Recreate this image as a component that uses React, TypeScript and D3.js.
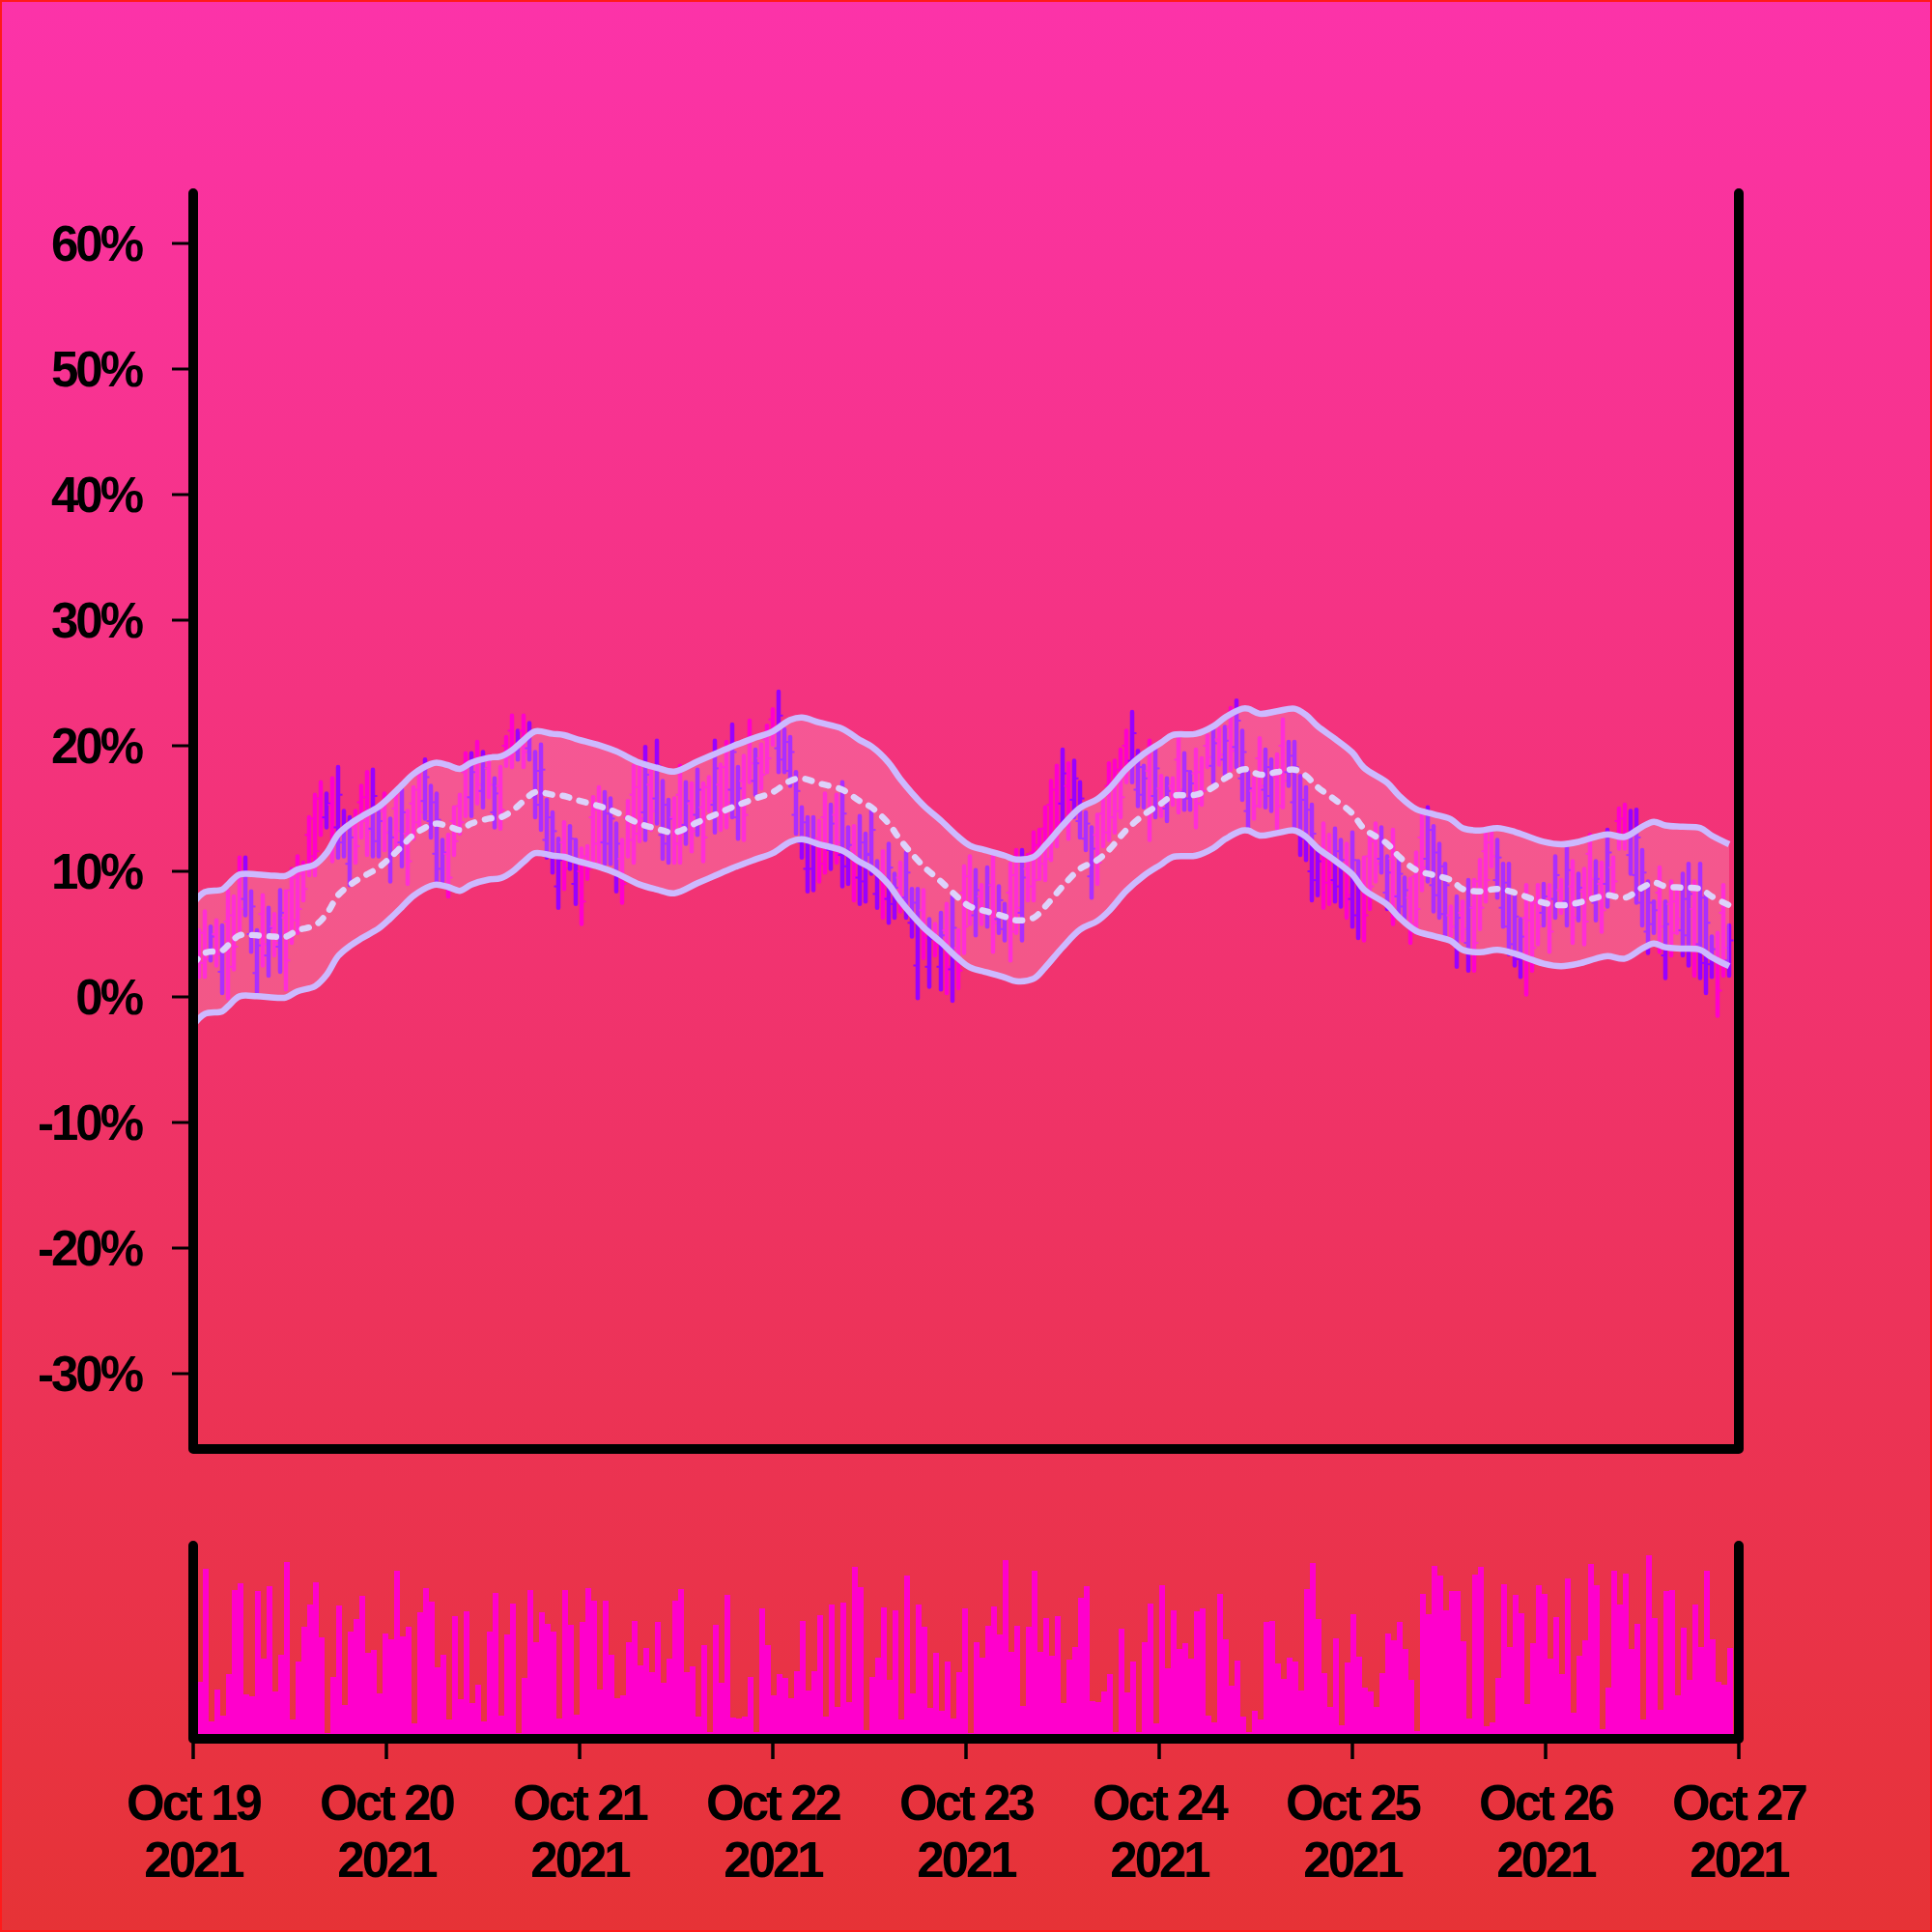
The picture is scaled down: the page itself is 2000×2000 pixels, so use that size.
import * as d3 from 'd3';

// OHLC in percent, one candle per 43.2 minutes starting Oct 19 2021
const HIGH = [
  4.8, 5.3, 6.8, 5.6, 6.1, 5.7, 8.4, 8.0, 11.1, 11.1,
  8.4, 5.3, 8.1, 7.1, 6.6, 8.5, 8.4, 10.2, 11.2, 10.7,
  14.3, 16.1, 17.1, 16.2, 17.4, 18.3, 14.8, 14.3, 14.8, 16.8,
  17.9, 18.1, 15.2, 16.2, 14.2, 16.5, 16.5, 14.8, 16.7, 17.9,
  18.9, 16.8, 16.2, 12.5, 12.9, 15.1, 16.1, 19.4, 19.4, 20.3,
  19.5, 19.2, 17.4, 18.3, 20.7, 22.4, 21.2, 22.4, 21.8, 19.5,
  20.1, 15.7, 14.7, 12.6, 13.9, 13.6, 12.5, 11.8, 12.0, 15.9,
  16.7, 16.3, 15.8, 13.8, 12.5, 15.6, 18.4, 18.5, 19.9, 18.4,
  20.4, 17.2, 15.7, 15.8, 18.4, 17.1, 17.0, 18.1, 17.0, 17.5,
  20.4, 18.5, 20.3, 21.7, 18.3, 19.2, 22.0, 19.7, 20.1, 21.6,
  22.9, 24.3, 21.3, 20.7, 17.9, 15.1, 14.3, 14.3, 14.0, 16.2,
  15.3, 16.1, 17.1, 13.5, 13.6, 14.4, 13.0, 14.8, 10.8, 11.6,
  12.2, 9.8, 10.7, 11.5, 8.6, 8.6, 8.5, 6.2, 5.8, 6.7,
  7.4, 8.0, 5.3, 10.4, 11.2, 10.1, 8.9, 10.3, 11.2, 8.8,
  7.4, 10.6, 11.7, 11.7, 11.3, 13.1, 13.3, 15.1, 17.2, 18.4,
  19.7, 18.6, 18.8, 17.1, 14.7, 13.5, 14.5, 15.7, 18.6, 18.8,
  19.7, 21.2, 22.7, 19.6, 18.4, 20.4, 19.9, 17.6, 17.4, 17.4,
  20.7, 19.4, 17.9, 19.7, 19.0, 20.8, 21.5, 21.3, 21.5, 23.0,
  23.6, 21.2, 17.9, 17.4, 20.6, 19.7, 18.9, 19.3, 22.1, 20.3,
  20.3, 17.6, 16.7, 15.3, 12.0, 13.8, 12.9, 13.4, 12.5, 12.2,
  13.1, 10.8, 11.1, 13.0, 13.8, 13.5, 11.2, 13.3, 11.2, 9.5,
  9.4, 11.5, 14.5, 15.1, 13.6, 12.2, 10.6, 7.2, 8.0, 7.6,
  9.3, 9.3, 10.9, 13.3, 13.1, 12.5, 10.6, 10.6, 8.1, 6.2,
  8.9, 7.9, 8.9, 9.0, 8.9, 11.2, 9.3, 12.0, 10.8, 9.8,
  10.2, 12.9, 10.8, 10.7, 13.3, 11.1, 15.0, 15.3, 14.8, 14.9,
  11.7, 9.2, 7.6, 10.3, 7.6, 9.2, 8.6, 9.8, 10.6, 9.2,
  10.6, 8.3, 4.8, 5.1, 8.9, 5.7,
];

const LOW = [
  1.0, 1.6, 1.6, 2.9, 2.5, 0.3, -0.1, 2.2, 5.3, 6.5,
  3.6, 0.4, 2.5, 1.7, 3.3, 2.0, 0.6, 4.3, 5.1, 7.7,
  9.7, 9.7, 12.9, 13.5, 10.8, 11.1, 11.2, 8.9, 10.7, 12.7,
  11.3, 11.2, 11.2, 11.7, 9.2, 11.7, 10.4, 9.0, 12.6, 13.3,
  14.2, 12.7, 9.2, 9.2, 8.0, 11.3, 13.0, 14.4, 14.4, 15.4,
  15.1, 15.9, 13.5, 13.4, 18.4, 18.3, 18.9, 18.3, 18.9, 14.3,
  13.3, 11.1, 9.9, 7.1, 8.6, 10.2, 7.4, 5.8, 9.4, 10.6,
  10.6, 10.6, 10.6, 8.4, 7.5, 11.2, 10.7, 12.4, 12.5, 13.3,
  13.8, 11.0, 10.7, 10.7, 10.7, 12.2, 11.6, 12.9, 10.8, 14.8,
  13.1, 13.3, 13.5, 14.3, 12.6, 12.5, 17.1, 16.1, 16.6, 17.9,
  20.1, 17.9, 17.9, 16.8, 13.0, 11.1, 8.4, 8.5, 9.2, 9.9,
  10.2, 10.7, 8.8, 9.0, 7.7, 7.4, 7.6, 9.8, 7.1, 6.3,
  5.9, 6.3, 6.8, 6.3, 4.8, -0.1, 3.1, 0.8, 3.3, 0.6,
  0.3, -0.3, 0.7, 3.5, 5.8, 4.9, 5.8, 5.6, 3.6, 5.1,
  4.5, 2.9, 5.1, 4.5, 7.7, 7.7, 9.4, 9.3, 10.9, 12.0,
  13.5, 12.6, 14.3, 12.7, 11.7, 7.9, 9.0, 12.0, 12.5, 13.1,
  14.3, 17.1, 17.1, 15.2, 15.1, 12.5, 14.3, 14.4, 14.0, 15.3,
  14.7, 14.9, 14.9, 13.5, 15.3, 18.3, 17.1, 18.5, 17.7, 18.1,
  18.3, 15.7, 13.5, 14.2, 15.2, 15.1, 14.8, 13.4, 15.1, 16.8,
  13.5, 11.3, 10.9, 7.7, 8.1, 7.1, 7.4, 7.6, 7.2, 6.3,
  5.6, 4.7, 4.5, 7.0, 9.2, 9.9, 7.0, 5.8, 6.6, 6.2,
  4.3, 5.1, 8.5, 9.2, 6.8, 6.3, 4.9, 4.9, 2.4, 4.5,
  2.1, 2.1, 5.4, 7.6, 10.4, 7.9, 5.6, 3.4, 2.5, 1.6,
  0.2, 2.1, 4.2, 5.7, 3.6, 6.3, 6.7, 5.7, 4.3, 6.1,
  4.2, 7.9, 6.1, 5.2, 7.2, 8.4, 11.8, 11.8, 9.8, 7.5,
  5.7, 3.5, 5.1, 3.6, 1.5, 3.3, 5.1, 3.3, 2.5, 1.7,
  1.5, 0.3, 1.6, -1.5, 1.7, 1.7,
];

const OPEN = [
  2.2, 4.4, 5.1, 3.6, 5.0, 2.0, 6.0, 6.5, 9.4, 7.8,
  5.0, 1.9, 6.6, 3.3, 5.6, 4.0, 6.3, 8.5, 9.5, 9.8,
  12.9, 14.2, 15.8, 14.3, 15.3, 13.5, 12.3, 10.6, 13.5, 15.5,
  15.9, 13.4, 12.4, 14.8, 10.8, 15.0, 12.3, 13.0, 15.4, 16.5,
  15.6, 14.0, 11.4, 10.2, 11.4, 14.0, 15.2, 17.9, 15.9, 18.8,
  16.4, 18.2, 14.7, 16.8, 20.0, 21.2, 19.6, 21.2, 19.8, 15.9,
  15.3, 12.5, 11.4, 8.8, 12.3, 11.2, 9.0, 10.0, 11.2, 14.3,
  14.9, 12.3, 12.2, 10.0, 11.0, 14.3, 16.1, 16.7, 14.7, 16.9,
  15.8, 12.9, 12.2, 14.3, 16.1, 13.7, 15.4, 14.5, 15.1, 16.7,
  15.3, 16.9, 18.3, 16.5, 14.3, 17.2, 20.5, 17.2, 19.0, 20.5,
  22.1, 19.8, 18.9, 18.0, 14.5, 12.3, 10.2, 10.2, 12.6, 14.3,
  11.7, 14.5, 11.3, 10.4, 11.8, 9.5, 9.2, 11.3, 8.2, 10.0,
  7.8, 7.4, 9.5, 7.9, 5.9, 2.5, 6.9, 2.4, 5.0, 2.4,
  5.3, 2.2, 3.9, 8.3, 9.6, 6.5, 8.0, 7.0, 8.9, 6.2,
  5.4, 8.3, 9.7, 6.7, 10.2, 11.5, 12.1, 13.4, 15.3, 16.5,
  15.4, 16.8, 15.7, 14.0, 12.6, 9.6, 12.9, 14.6, 16.8, 17.1,
  18.1, 20.0, 18.8, 16.5, 16.1, 18.0, 16.0, 16.6, 15.0, 16.8,
  18.9, 16.3, 15.8, 17.8, 17.9, 20.0, 18.4, 20.5, 18.9, 21.5,
  19.9, 17.4, 14.8, 16.4, 19.0, 16.5, 16.0, 17.5, 20.0, 17.9,
  15.5, 13.2, 12.6, 10.0, 9.3, 11.8, 11.2, 9.3, 8.8, 10.4,
  7.8, 6.5, 9.1, 11.2, 12.4, 11.0, 8.3, 11.0, 8.0, 7.2,
  7.9, 9.6, 12.7, 11.0, 8.9, 8.1, 6.6, 6.5, 4.1, 6.7,
  4.3, 7.1, 9.2, 11.6, 12.3, 9.3, 7.1, 5.6, 4.2, 3.0,
  6.3, 6.1, 7.5, 6.7, 7.3, 7.8, 8.5, 7.6, 8.8, 7.2,
  8.4, 11.4, 7.5, 9.0, 9.0, 10.3, 14.0, 14.2, 11.3, 9.7,
  7.5, 5.2, 5.8, 8.3, 3.3, 7.4, 7.6, 5.3, 4.9, 7.0,
  4.2, 2.7, 2.6, 3.1, 6.7, 2.9,
];

const CLOSE = [
  3.9, 2.7, 3.0, 4.8, 3.4, 4.1, 2.4, 4.0, 7.0, 9.9,
  7.2, 4.1, 4.2, 5.5, 4.3, 6.7, 2.9, 6.1, 7.0, 8.6,
  11.2, 11.6, 14.2, 15.4, 12.9, 16.1, 13.7, 12.7, 12.0, 14.0,
  13.3, 16.0, 14.0, 13.1, 12.7, 13.2, 14.7, 10.8, 13.9, 14.7,
  17.5, 15.5, 14.1, 11.5, 9.5, 12.4, 13.9, 15.9, 17.9, 16.9,
  18.2, 16.9, 16.2, 14.9, 19.1, 19.5, 20.5, 19.5, 20.9, 18.0,
  18.1, 14.3, 13.2, 10.9, 10.2, 12.6, 11.0, 7.6, 10.2, 12.2,
  12.4, 14.6, 14.2, 12.2, 9.0, 12.5, 13.0, 14.2, 17.7, 14.8,
  18.4, 15.3, 14.2, 12.2, 13.0, 15.6, 13.2, 16.5, 12.7, 15.6,
  18.2, 14.9, 15.5, 19.5, 16.6, 14.5, 18.6, 18.6, 17.7, 19.0,
  21.0, 22.4, 20.3, 19.5, 16.4, 13.9, 12.5, 12.6, 10.6, 11.8,
  13.8, 12.3, 14.6, 12.1, 9.5, 12.3, 11.4, 13.3, 9.7, 7.9,
  10.3, 8.7, 8.0, 9.9, 7.5, 6.0, 4.7, 4.6, 4.1, 4.9,
  2.4, 5.5, 2.1, 5.6, 7.4, 8.5, 6.7, 8.9, 5.9, 7.7,
  6.5, 5.2, 7.1, 9.5, 8.8, 9.3, 10.6, 11.0, 12.8, 13.9,
  17.8, 14.4, 17.4, 15.8, 13.8, 11.8, 10.7, 13.1, 14.3, 14.8,
  15.9, 18.3, 21.0, 18.3, 17.4, 14.9, 18.2, 15.4, 16.4, 15.9,
  16.5, 18.0, 17.0, 15.4, 16.4, 19.1, 20.2, 19.3, 20.4, 19.6,
  22.0, 19.5, 16.6, 15.2, 16.8, 18.3, 17.7, 15.2, 17.2, 19.2,
  18.3, 15.7, 14.9, 13.0, 10.8, 9.1, 9.1, 11.6, 10.9, 8.1,
  10.9, 8.9, 6.5, 8.8, 10.6, 12.4, 9.9, 8.1, 9.8, 8.5,
  5.8, 7.0, 10.3, 13.3, 11.5, 10.4, 8.9, 5.6, 6.3, 5.4,
  7.1, 4.3, 7.1, 9.3, 11.2, 11.1, 9.1, 8.4, 6.4, 4.8,
  2.8, 3.9, 5.6, 8.0, 5.2, 9.7, 7.5, 10.1, 6.3, 8.7,
  6.0, 9.4, 9.4, 6.9, 11.5, 9.2, 12.8, 12.9, 13.3, 12.7,
  9.9, 7.5, 6.9, 5.6, 5.8, 5.1, 6.2, 7.8, 8.2, 3.9,
  7.9, 5.9, 3.8, 0.5, 3.9, 4.5,
];

const VOLUME = [
  60, 53, 170, 12, 45, 18, 61, 148, 155, 40,
  38, 147, 77, 152, 43, 81, 177, 14, 74, 110,
  133, 156, 99, 0, 58, 132, 29, 105, 118, 142,
  83, 86, 41, 103, 97, 168, 100, 110, 10, 125,
  150, 136, 68, 81, 14, 121, 35, 126, 31, 50,
  12, 105, 145, 18, 102, 134, 0, 57, 148, 94,
  125, 113, 105, 15, 148, 112, 19, 115, 150, 137,
  45, 137, 81, 36, 39, 94, 116, 70, 88, 63,
  115, 52, 77, 137, 149, 63, 69, 17, 91, 1,
  112, 52, 143, 16, 15, 17, 58, 1, 129, 91,
  39, 61, 57, 36, 64, 116, 44, 64, 122, 17,
  133, 27, 135, 32, 172, 151, 3, 58, 78, 130,
  55, 127, 14, 163, 41, 133, 110, 26, 83, 23,
  74, 15, 63, 129, 0, 94, 78, 111, 131, 102,
  179, 84, 111, 28, 110, 168, 84, 119, 80, 121,
  31, 76, 89, 140, 152, 33, 32, 43, 61, 1,
  108, 42, 74, 1, 94, 134, 10, 153, 67, 127,
  87, 93, 77, 126, 129, 18, 11, 144, 97, 49,
  75, 17, 1, 23, 14, 115, 116, 72, 56, 78,
  74, 44, 149, 176, 118, 62, 27, 98, 8, 73,
  123, 79, 47, 43, 27, 62, 103, 96, 115, 87,
  55, 2, 144, 123, 173, 163, 127, 147, 147, 95,
  15, 164, 172, 7, 11, 57, 154, 89, 143, 124,
  30, 93, 153, 144, 77, 120, 61, 160, 21, 80,
  96, 175, 153, 4, 47, 168, 133, 165, 87, 113,
  14, 184, 119, 24, 147, 148, 39, 109, 55, 133,
  89, 168, 97, 53, 50, 88,
];

// band centre line, sampled at candle indices
const BAND_IDX = [
  0, 2, 5, 6, 8, 11, 14, 16, 18, 21, 23, 25, 27, 29, 32, 34, 36, 38, 41, 42,
  44, 46, 48, 51, 53, 55, 57, 59, 62, 64, 66, 70, 73, 77, 80, 83, 87, 90, 93, 97,
  100, 103, 105, 108, 112, 115, 117, 120, 122, 126, 129, 132, 134, 137, 140, 142, 145, 147, 150, 153,
  156, 158, 161, 164, 167, 169, 173, 176, 178, 181, 182, 184, 187, 190, 192, 194, 197, 200, 202, 206,
  208, 211, 214, 217, 219, 222, 225, 228, 231, 233, 236, 239, 242, 244, 247, 250, 252, 254, 257, 260,
  262, 265,
];
const BAND_MID = [
  2.6, 3.5, 3.7, 4.1, 4.9, 4.9, 4.8, 4.8, 5.3, 5.7, 6.6, 8.1, 8.9, 9.5, 10.3, 11.1, 12.0, 12.9, 13.7, 13.8,
  13.6, 13.3, 13.8, 14.2, 14.3, 14.8, 15.6, 16.3, 16.1, 16.0, 15.7, 15.2, 14.7, 13.8, 13.4, 13.1, 13.9, 14.5, 15.1, 15.8,
  16.3, 17.2, 17.4, 17.0, 16.5, 15.6, 15.1, 13.8, 12.5, 10.4, 9.2, 7.9, 7.2, 6.8, 6.4, 6.1, 6.3, 7.2, 8.8, 10.2,
  10.9, 11.7, 13.3, 14.5, 15.4, 16.0, 16.1, 16.7, 17.4, 18.1, 18.1, 17.7, 17.9, 18.1, 17.6, 16.7, 15.7, 14.6, 13.4, 12.2,
  11.2, 10.1, 9.7, 9.3, 8.6, 8.4, 8.6, 8.3, 7.8, 7.5, 7.3, 7.5, 7.9, 8.1, 7.9, 8.7, 9.1, 8.8, 8.7, 8.6,
  8.0, 7.3,
];
const BAND_HALF = 4.85;

const Y_TICKS = [60, 50, 40, 30, 20, 10, 0, -10, -20, -30];
const DAYS = [19, 20, 21, 22, 23, 24, 25, 26, 27];

const START = new Date(2021, 9, 19);
const STEP_MS = 43.2 * 60 * 1000;

const UP = '#9900ff';
const DOWN = '#ff00cc';
const BAND = '#cdb9ff';
const FONT = '"Liberation Sans", Arial, Helvetica, sans-serif';

const timeAt = (k: number) => new Date(START.getTime() + k * STEP_MS);

export default function App() {
  const W = 2000;
  const H = 2000;
  const left = 200;
  const right = 1800;

  const x = d3
    .scaleTime()
    .domain([START, new Date(2021, 9, 27)])
    .range([left, right]);

  const y = d3.scaleLinear().domain([-36, 64]).range([1500, 200]);
  const yVol = d3.scaleLinear().domain([0, 200]).range([1794, 1594]);

  const candles = HIGH.map((h, i) => ({
    t: timeAt(i),
    high: h,
    low: LOW[i],
    open: OPEN[i],
    close: CLOSE[i],
    vol: VOLUME[i],
  }));

  const band = BAND_IDX.map((k, i) => ({ t: timeAt(k), mid: BAND_MID[i] }));

  const curve = d3.curveCatmullRom.alpha(0.5);
  const area = d3
    .area<{ t: Date; mid: number }>()
    .x((d) => x(d.t))
    .y0((d) => y(d.mid - BAND_HALF))
    .y1((d) => y(d.mid + BAND_HALF))
    .curve(curve);
  const lineAt = (off: number) =>
    d3
      .line<{ t: Date; mid: number }>()
      .x((d) => x(d.t))
      .y((d) => y(d.mid + off))
      .curve(curve);

  const fmtDay = d3.timeFormat('%b %d');
  const fmtYear = d3.timeFormat('%Y');
  const dayTicks = DAYS.map((d) => new Date(2021, 9, d));

  return (
    <svg
      width={W}
      height={H}
      style={{ position: 'absolute', left: 0, top: 0, display: 'block' }}
      fontFamily={FONT}
    >
      <defs>
        <linearGradient id="bg" x1="0" y1="0" x2="0" y2="1">
          <stop offset="0%" stopColor="#fc33a9" />
          <stop offset="100%" stopColor="#e63336" />
        </linearGradient>
      </defs>
      <rect x={0} y={0} width={W} height={H} fill="url(#bg)" />
      <rect x={1} y={1} width={W - 2} height={H - 2} fill="none" stroke="#ff1a1a" strokeWidth={2} />

      {/* candles */}
      <g>
        {candles.map((d, i) => {
          const cx = x(d.t);
          const col = d.close >= d.open ? UP : DOWN;
          return (
            <g key={i} stroke={col}>
              <line x1={cx} x2={cx} y1={y(d.high)} y2={y(d.low)} strokeWidth={4.5} strokeLinecap="round" />
              <line x1={cx - 4.5} x2={cx} y1={y(d.open)} y2={y(d.open)} strokeWidth={2} />
              <line x1={cx} x2={cx + 4.5} y1={y(d.close)} y2={y(d.close)} strokeWidth={2} />
            </g>
          );
        })}
      </g>

      {/* band */}
      <path d={area(band) ?? ''} fill="#ffffff" fillOpacity={0.18} />
      <path d={lineAt(BAND_HALF)(band) ?? ''} fill="none" stroke={BAND} strokeWidth={6.5} strokeLinejoin="round" />
      <path d={lineAt(-BAND_HALF)(band) ?? ''} fill="none" stroke={BAND} strokeWidth={6.5} strokeLinejoin="round" />
      <path
        d={lineAt(0)(band) ?? ''}
        fill="none"
        stroke="#ddd2fb"
        strokeWidth={6.5}
        strokeDasharray="7 11"
        strokeLinecap="round"
      />

      {/* price frame */}
      <path
        d={`M${left},${y.range()[1]}V${y.range()[0]}H${right}V${y.range()[1]}`}
        fill="none"
        stroke="#000"
        strokeWidth={10}
        strokeLinecap="round"
        strokeLinejoin="round"
      />
      {Y_TICKS.map((v) => (
        <g key={v}>
          <line x1={178} x2={left} y1={y(v)} y2={y(v)} stroke="#000" strokeWidth={3} />
          <text
            x={146}
            y={y(v)}
            dy="0.35em"
            textAnchor="end"
            fontSize={51}
            fontWeight="bold"
            letterSpacing={-3}
            fill="#000"
          >
            {`${v}%`}
          </text>
        </g>
      ))}

      {/* volume */}
      <g fill={DOWN}>
        {candles.map((d, i) => (
          <rect
            key={i}
            x={x(d.t) - 2}
            y={yVol(d.vol)}
            width={6}
            height={yVol(0) - yVol(d.vol) + 6}
          />
        ))}
      </g>
      <path
        d={`M${left},1600V1800H${right}V1600`}
        fill="none"
        stroke="#000"
        strokeWidth={10}
        strokeLinecap="round"
        strokeLinejoin="round"
      />
      {dayTicks.map((d, i) => (
        <g key={i}>
          <line x1={x(d)} x2={x(d)} y1={1800} y2={1821} stroke="#000" strokeWidth={3.5} />
          <text
            x={x(d)}
            y={1884}
            textAnchor="middle"
            fontSize={51}
            fontWeight="bold"
            letterSpacing={-3}
            fill="#000"
          >
            {fmtDay(d)}
          </text>
          <text
            x={x(d)}
            y={1943}
            textAnchor="middle"
            fontSize={51}
            fontWeight="bold"
            letterSpacing={-3}
            fill="#000"
          >
            {fmtYear(d)}
          </text>
        </g>
      ))}
    </svg>
  );
}
